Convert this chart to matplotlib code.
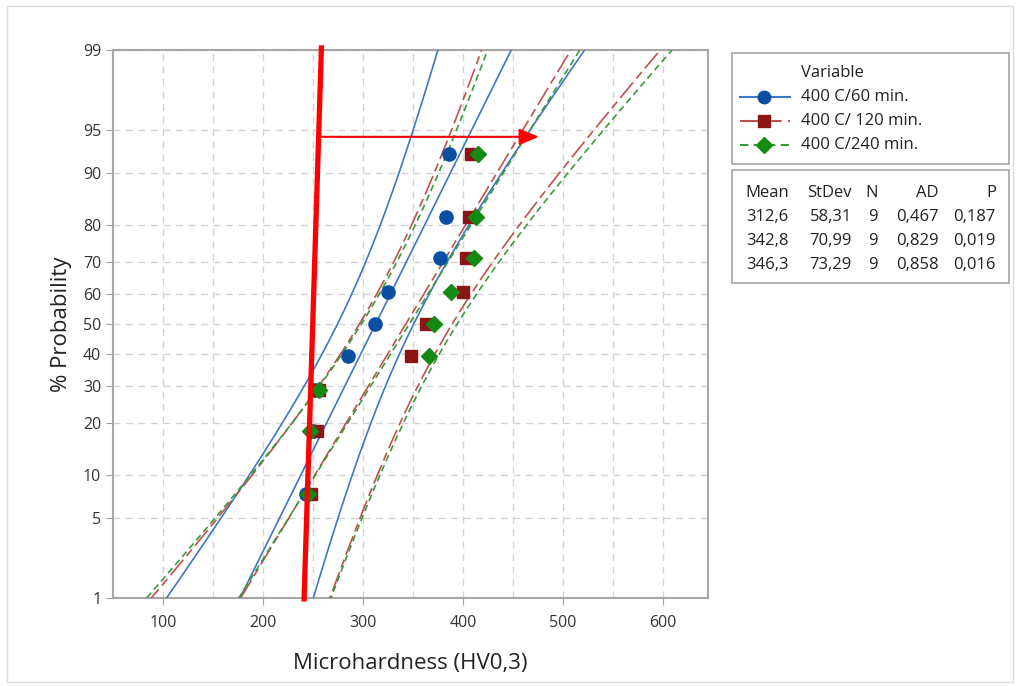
from statistics import NormalDist
import numpy as np
import matplotlib
matplotlib.use("Agg")
import matplotlib.pyplot as plt
from matplotlib.patches import Rectangle

plt.rcParams['font.family'] = ['Open Sans', 'DejaVu Sans']

# ---- data ----
labels = ['400 C/60 min.', '400 C/ 120 min.', '400 C/240 min.']
hv_60 = [243, 250, 252, 285, 312, 325, 377, 383, 386]
hv_120 = [248, 254, 256, 348, 363, 400, 403, 406, 408]
hv_240 = [245.5, 247.5, 256.5, 366, 371.5, 388, 411, 413, 415]
means = [312.6, 342.8, 346.3]
stdevs = [58.31, 70.99, 73.29]
n_obs = [9, 9, 9]
ad_vals = ['0,467', '0,829', '0,858']
p_vals = ['0,187', '0,019', '0,016']
mean_txt = ['312,6', '342,8', '346,3']
sd_txt = ['58,31', '70,99', '73,29']
prob_ticks = [1, 5, 10, 20, 30, 40, 50, 60, 70, 80, 90, 95, 99]

line_cols = ['#3b78c4', '#c0504d', '#3a9a3a']
mark_cols = ['#0b4ea2', '#8b1515', '#138a13']
markers = ['o', 's', 'D']
msizes = [9.5, 9, 8.5]
dashes = [None, (12, 3, 5, 3), (4, 2.5)]

nd = NormalDist()
zq = lambda p: nd.inv_cdf(p)

fig = plt.figure(figsize=(10.2, 6.86), dpi=100)
ax = fig.add_axes([113/1020, 1-598/686, (708-113)/1020, (598-50)/686])

zz = np.linspace(zq(0.002), zq(0.998), 300)
for i, data in enumerate([hv_60, hv_120, hv_240]):
    m, s, n = means[i], stdevs[i], n_obs[i]
    center = m + s*zz
    se = s*np.sqrt(1/n + zz**2/(2*n))
    kw = dict(color=line_cols[i], lw=1.2, zorder=3)
    for xs in (center, center - 1.96*se, center + 1.96*se):
        ln, = ax.plot(xs, zz, **kw)
        if dashes[i]:
            ln.set_dashes(dashes[i])
    ranks = [(k + 1 - 0.3)/(n + 0.4) for k in range(n)]
    ax.plot(sorted(data), [zq(r) for r in ranks], ls='none', marker=markers[i],
            ms=msizes[i], color=mark_cols[i], mec=mark_cols[i], zorder=5+i)

ax.set_xlim(50, 645)
ax.set_ylim(zq(0.01), zq(0.99))
ax.set_xticks(range(100, 601, 100))
ax.set_xticks(range(150, 601, 100), minor=True)
ax.set_yticks([zq(p/100) for p in prob_ticks])
ax.set_yticklabels([str(p) for p in prob_ticks])
ax.grid(True, which='both', color='#d3d3d3', ls=(0, (5, 4)), lw=1)
ax.tick_params(which='major', length=5, color='#a0a0a0', labelsize=11.5, labelcolor='#333333')
ax.tick_params(axis='x', which='major', pad=7)
ax.tick_params(which='minor', length=0)
for sp in ax.spines.values():
    sp.set_color('#a6a6a6')
    sp.set_linewidth(1.5)
ax.set_xlabel('Microhardness (HV0,3)', fontsize=16, color='#222222', labelpad=16)
ax.set_ylabel('% Probability', fontsize=16, color='#222222', labelpad=8)

# red annotation
ax.plot([258.5, 241], [zq(0.99) + 0.04, zq(0.01) - 0.03], color='#ff0000', lw=3.8,
        clip_on=False, zorder=10, solid_capstyle='butt')
ax.annotate('', xy=(476, zq(0.944)), xytext=(259, zq(0.944)),
            arrowprops=dict(arrowstyle='-|>,head_length=1.2,head_width=0.5',
                            color='#ff0000', lw=1.5, shrinkA=0, shrinkB=0), zorder=10)

# legend + stats table in pixel coordinates
ov = fig.add_axes([0, 0, 1, 1])
ov.set_xlim(0, 1020)
ov.set_ylim(686, 0)
ov.axis('off')
ov.add_patch(Rectangle((7, 6), 1006, 676, fill=False, ec='#dcdcdc', lw=1))
ov.add_patch(Rectangle((732, 53), 277, 111, fill=False, ec='#a6a6a6', lw=1.2))
ov.add_patch(Rectangle((732, 170), 277, 113, fill=False, ec='#a6a6a6', lw=1.2))
ov.text(801, 73, 'Variable', fontsize=12, va='center', color='#222222')
for i, yy in enumerate([97, 121, 145]):
    ln, = ov.plot([740, 790], [yy, yy], color=line_cols[i], lw=1.5)
    if dashes[i]:
        ln.set_dashes(dashes[i])
    ov.plot([764], [yy], marker=markers[i], ms=msizes[i]-0.5, color=mark_cols[i], ls='none')
    ov.text(801, yy, labels[i], fontsize=12, va='center', color='#222222')
cols_x = [789, 852, 878, 939, 996]
for x, h in zip(cols_x, ['Mean', 'StDev', 'N', 'AD', 'P']):
    ov.text(x, 193, h, fontsize=12, ha='right', va='center', color='#222222')
for r in range(3):
    row = [mean_txt[r], sd_txt[r], str(n_obs[r]), ad_vals[r], p_vals[r]]
    for x, v in zip(cols_x, row):
        ov.text(x, 217 + 24*r, v, fontsize=12, ha='right', va='center', color='#222222')

fig.savefig('out.png', dpi=100)
